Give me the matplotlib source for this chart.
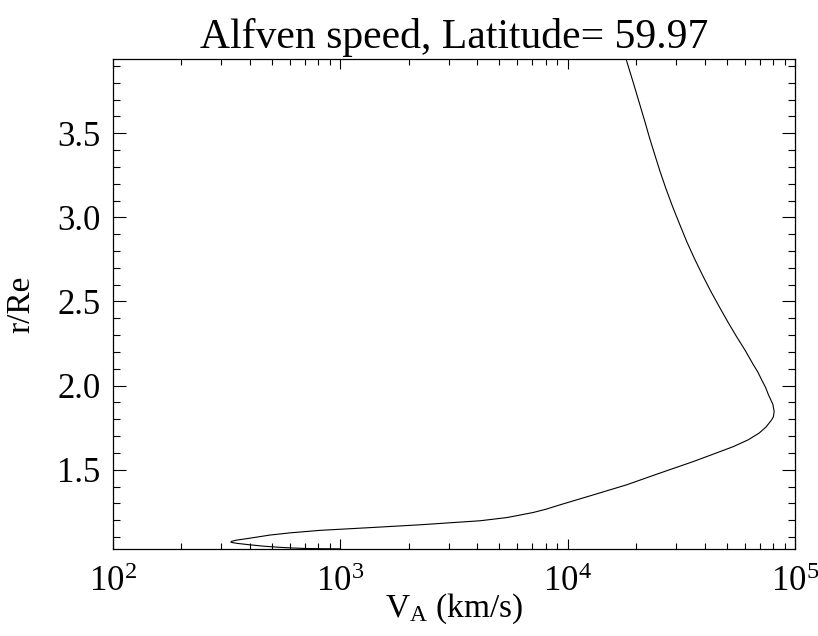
import matplotlib
matplotlib.use("Agg")
import matplotlib.pyplot as plt
from matplotlib.ticker import MultipleLocator, LogLocator, FixedLocator, FormatStrFormatter
import numpy as np

plt.rcParams['font.family'] = ['Liberation Serif', 'DejaVu Serif']
plt.rcParams['mathtext.fontset'] = 'custom'
plt.rcParams['mathtext.rm'] = 'Liberation Serif'
plt.rcParams['mathtext.it'] = 'Liberation Serif:italic'
plt.rcParams['mathtext.default'] = 'regular'

# radius (r/Re) along the field line and Alfven speed (km/s)
r_re = [1.030, 1.031, 1.0325, 1.035, 1.040, 1.046, 1.054, 1.062, 1.067,
        1.070, 1.075, 1.082, 1.090, 1.100, 1.112, 1.125, 1.140, 1.155,
        1.173, 1.197, 1.216, 1.231, 1.246, 1.265, 1.292, 1.350, 1.411,
        1.480, 1.549, 1.600, 1.638, 1.678, 1.718, 1.755, 1.797, 1.816,
        1.846, 1.890, 1.945, 1.990, 2.034, 2.079, 2.123, 2.206, 2.291,
        2.375, 2.460, 2.556, 2.657, 2.755, 2.855, 2.959, 3.063, 3.167,
        3.271, 3.369, 3.470, 3.568, 3.666, 3.803, 3.939]
v_alf = [1000, 800, 700, 620, 530, 460, 401, 355, 336,
         330, 333, 350, 385, 430, 490, 600, 815, 1300,
         2240, 4120, 5400, 6175, 7040, 8000, 9270, 12900, 18200,
         25400, 35700, 45100, 53600, 62200, 69500, 74600, 78900, 80300,
         80900, 79800, 76400, 74130, 71300, 68680, 65600, 60530, 55300,
         50790, 46800, 42760, 39140, 36090, 33400, 31070, 28940, 27100,
         25500, 24190, 22930, 21860, 20800, 19400, 18070]

fig = plt.figure(figsize=(8.18, 6.36), dpi=100)
ax = fig.add_axes([0.138, 0.137, 0.834, 0.770])

ax.plot(v_alf, r_re, color='black', lw=0.8)

ax.set_xscale('log')
ax.set_xlim(1e2, 1e5)
ax.set_ylim(1.030, 3.940)

ax.xaxis.set_major_locator(FixedLocator([1e2, 1e3, 1e4, 1e5]))
ax.xaxis.set_minor_locator(LogLocator(base=10, subs=np.arange(2, 10)))
ax.set_xticklabels([r'$10^{2}$', r'$10^{3}$', r'$10^{4}$', r'$10^{5}$'])
ax.yaxis.set_major_locator(MultipleLocator(0.5))
ax.yaxis.set_minor_locator(MultipleLocator(0.1))
ax.yaxis.set_major_formatter(FormatStrFormatter('%.1f'))

ax.tick_params(which='both', direction='in', top=True, right=True,
               labelsize=25, color='black', width=0.8)
ax.tick_params(axis='x', which='major', length=7.2, pad=12)
ax.tick_params(axis='x', which='minor', length=4.3)
ax.tick_params(axis='y', which='major', length=9.4, pad=9)
ax.tick_params(axis='y', which='minor', length=5)
for s in ax.spines.values():
    s.set_linewidth(0.9)

ax.set_title('Alfven speed, Latitude= 59.97', fontsize=30, pad=8)
ax.set_xlabel(r'$V_A$ (km/s)', fontsize=24, labelpad=-5)
ax.set_ylabel('r/Re', fontsize=24, labelpad=15)

fig.savefig('out.png', dpi=100)
